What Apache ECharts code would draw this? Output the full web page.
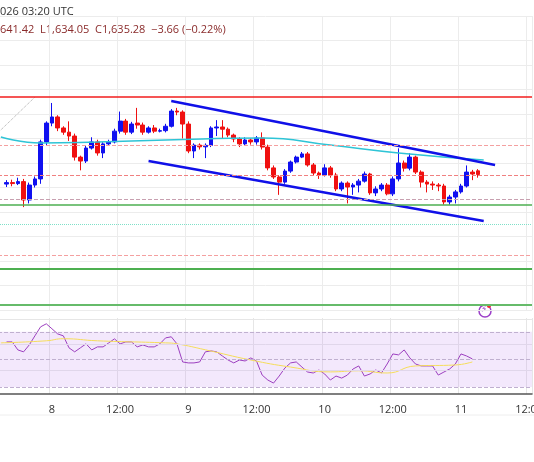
<!DOCTYPE html>
<html>
<head>
<meta charset="utf-8">
<script src="https://cdn.jsdelivr.net/npm/echarts@6/dist/echarts.min.js"></script>
<style>
  html, body { margin: 0; padding: 0; background: #fff; }
  #chart { width: 534px; height: 462px; }
</style>
</head>
<body>
<div id="chart"></div>
<script>
// hourly candles, first one at 7th 15:00 UTC (h = -8 from the 8th 00:00)
const firstHour = -9;
const lastHour = 84;

// [open, close, low, high]
const candles = [
  [1631.4, 1632.0, 1630.2, 1633.0], [1632.0, 1631.6, 1630.5, 1633.2], [1631.6, 1632.4, 1631.0, 1634.0],
  [1632.4, 1624.9, 1622.0, 1633.5], [1624.9, 1631.0, 1623.5, 1632.0], [1631.0, 1633.5, 1630.0, 1634.5],
  [1633.5, 1648.6, 1631.5, 1649.5], [1648.6, 1656.3, 1647.0, 1657.0], [1656.3, 1658.8, 1655.0, 1664.5],
  [1658.8, 1654.3, 1653.0, 1659.5], [1654.3, 1652.6, 1651.5, 1655.0], [1652.6, 1651.0, 1649.0, 1657.0],
  [1651.0, 1642.4, 1641.0, 1652.0], [1642.4, 1640.8, 1637.0, 1643.0], [1640.8, 1646.1, 1640.0, 1647.0],
  [1646.1, 1648.6, 1645.5, 1650.5], [1648.6, 1644.1, 1643.0, 1649.5], [1644.1, 1647.8, 1642.0, 1648.5],
  [1647.8, 1648.6, 1647.0, 1649.5], [1648.6, 1653.0, 1648.0, 1654.0], [1653.0, 1657.1, 1652.0, 1661.0],
  [1657.1, 1652.6, 1651.5, 1658.0], [1652.6, 1655.9, 1651.8, 1656.8], [1656.3, 1655.5, 1654.0, 1662.5],
  [1655.5, 1652.6, 1651.5, 1656.5], [1652.6, 1654.3, 1652.0, 1655.0], [1654.3, 1653.0, 1652.2, 1655.5],
  [1653.0, 1653.2, 1652.5, 1654.0], [1653.2, 1655.0, 1652.5, 1656.0], [1655.0, 1661.2, 1654.5, 1662.0],
  [1661.2, 1660.8, 1659.5, 1662.5], [1660.8, 1655.9, 1650.0, 1661.5], [1655.9, 1644.9, 1644.0, 1657.0],
  [1644.9, 1647.3, 1642.0, 1648.0], [1647.3, 1646.6, 1645.5, 1648.0], [1646.6, 1647.2, 1642.0, 1648.0],
  [1647.2, 1654.3, 1646.5, 1655.0], [1654.3, 1654.7, 1651.0, 1657.5], [1654.7, 1653.8, 1650.0, 1657.5],
  [1653.8, 1651.4, 1650.5, 1654.5], [1651.4, 1649.8, 1648.5, 1652.0], [1649.8, 1647.8, 1646.5, 1650.5],
  [1647.8, 1649.4, 1647.0, 1650.5], [1649.4, 1648.6, 1647.5, 1650.0], [1648.6, 1650.2, 1647.5, 1651.0],
  [1650.2, 1646.5, 1645.5, 1652.5], [1646.5, 1638.0, 1637.0, 1647.5], [1638.0, 1634.3, 1633.5, 1639.0],
  [1634.3, 1632.2, 1627.0, 1635.0], [1632.2, 1636.7, 1631.5, 1637.5], [1636.7, 1640.4, 1636.0, 1641.0],
  [1640.4, 1642.4, 1639.8, 1643.0], [1642.4, 1643.7, 1642.0, 1644.5], [1643.7, 1639.2, 1638.5, 1644.5],
  [1639.2, 1635.9, 1635.0, 1640.0], [1635.9, 1635.1, 1633.5, 1636.5], [1635.1, 1638.0, 1634.5, 1639.5],
  [1638.0, 1635.1, 1634.0, 1638.8], [1635.1, 1629.4, 1628.5, 1636.0], [1629.4, 1631.8, 1628.5, 1632.5],
  [1631.8, 1630.2, 1623.5, 1632.5], [1630.2, 1631.0, 1627.0, 1631.8], [1631.0, 1632.6, 1628.0, 1633.5],
  [1632.6, 1635.5, 1632.0, 1636.5], [1635.5, 1627.8, 1627.0, 1636.0], [1627.8, 1629.4, 1626.5, 1630.5],
  [1629.4, 1631.0, 1628.5, 1631.8], [1631.0, 1627.4, 1626.8, 1631.8], [1627.4, 1633.5, 1626.5, 1634.5],
  [1633.5, 1640.0, 1632.5, 1646.0], [1640.0, 1637.9, 1636.5, 1641.0], [1637.9, 1642.4, 1637.0, 1644.0],
  [1642.4, 1636.3, 1635.5, 1643.0], [1636.3, 1632.2, 1630.0, 1637.0], [1632.2, 1631.4, 1628.0, 1633.0],
  [1631.4, 1631.0, 1629.0, 1632.5], [1631.0, 1630.6, 1628.5, 1631.8], [1630.6, 1624.1, 1623.0, 1631.5],
  [1624.1, 1626.1, 1623.0, 1627.0], [1626.1, 1628.2, 1623.5, 1629.0], [1628.2, 1630.6, 1627.5, 1631.5],
  [1630.6, 1636.3, 1630.0, 1639.0], [1636.3, 1635.5, 1633.0, 1637.2], [1636.8, 1635.3, 1634.0, 1637.5]
];

// moving average (cyan), [category index, price]
const maPoints = [[0, 1650.6], [7, 1648.2], [17, 1648.6], [29, 1649.4], [46, 1650.2], [58, 1647.3], [70, 1644.1], [85, 1641.2]];

// channel lines
const upperChannel = [[30, 1665.3], [87, 1639.2]];
const lowerChannel = [[26, 1640.8], [85, 1616.3]];
const greyDotted = [[0, 1653.5], [6, 1666.9]];

// horizontal levels
const levels = [
  { price: 1667.1, color: '#f21c1c', type: 'solid', width: 1.5 },
  { price: 1647.3, color: '#f4a0a0', type: 'dashed', width: 1 },
  { price: 1635.1, color: '#f08080', type: 'dashed', width: 1 },
  { price: 1625.3, color: '#c8a0b0', type: 'dashed', width: 1 },
  { price: 1622.9, color: '#4caf50', type: 'solid', width: 1.5 },
  { price: 1615.1, color: '#7fe0c8', type: 'dotted', width: 1 },
  { price: 1602.5, color: '#f4a0a0', type: 'dashed', width: 1 },
  { price: 1596.8, color: '#4caf50', type: 'solid', width: 2 },
  { price: 1582.0, color: '#66bb6a', type: 'solid', width: 2 }
];

// RSI per candle
const rsi = [62.7, 62.7, 56.9, 55.5, 60.5, 67.1, 73.6, 75.8, 72.2, 68.5, 67.1, 58.4, 55.5, 58.4, 61.3, 56.9,
  59.1, 59.1, 62.0, 64.9, 61.3, 62.7, 62.7, 59.1, 60.5, 59.1, 59.1, 61.3, 65.6, 66.4, 61.3, 48.2, 47.5, 47.5,
  48.2, 55.5, 56.2, 55.5, 52.5, 49.6, 47.5, 49.6, 48.9, 51.1, 48.9, 38.7, 35.1, 32.9, 38.0, 43.8, 47.5, 48.2,
  44.5, 40.9, 40.2, 42.4, 39.5, 35.1, 38.0, 36.5, 38.7, 43.1, 45.3, 38.0, 39.5, 42.4, 40.2, 46.7, 54.0, 53.3,
  56.9, 51.1, 46.7, 45.3, 45.3, 45.3, 38.7, 40.9, 43.1, 46.7, 54.0, 52.5, 50.4];
const rsiMa = [[0, 62], [8, 63.5], [11, 65], [17, 63.5], [29, 62], [31, 61.3], [36, 57], [44, 49.6], [51, 44.5],
  [58, 41], [63, 41.8], [68, 40.2], [73, 45.3], [80, 46], [83, 48.2]];

const categories = [];
for (let h = firstHour; h <= lastHour; h++) categories.push('h' + h);
const hourLabel = (name) => {
  const h = Number(String(name).slice(1));
  if (h % 24 === 0) return String(8 + h / 24);
  if (((h % 24) + 24) % 24 === 12) return '12:00';
  return '';
};
const isTick = (i) => hourLabel(categories[i]) !== '';

const candleData = [{ value: '-' }].concat(candles);
const rsiData = ['-'].concat(rsi);

const levelLines = levels.map((l) => ({
  yAxis: l.price,
  lineStyle: { color: l.color, type: l.type, width: l.width }
}));

const chart = echarts.init(document.getElementById('chart'));
chart.setOption({
  animation: false,
  grid: [
    { left: -2, right: 2, top: 16, bottom: 152, outerBoundsMode: 'none', containLabel: false },
    { left: -2, right: 2, top: 318, bottom: 68, outerBoundsMode: 'none', containLabel: false }
  ],
  xAxis: [
    {
      type: 'category', data: categories, gridIndex: 0, boundaryGap: true,
      axisLine: { show: false }, axisTick: { show: false }, axisLabel: { show: false },
      splitLine: { show: true, interval: isTick, lineStyle: { color: '#ececec' } }
    },
    {
      type: 'category', data: categories, gridIndex: 1, boundaryGap: true,
      axisLine: { lineStyle: { color: '#555', width: 1.5 } }, axisTick: { show: false },
      axisLabel: {
        interval: isTick, formatter: hourLabel, color: '#333', fontSize: 11,
        fontFamily: 'Open Sans', margin: 10, showMaxLabel: true, hideOverlap: false
      },
      splitLine: { show: true, interval: isTick, lineStyle: { color: '#e6e6e6' } }
    }
  ],
  yAxis: [
    {
      type: 'value', gridIndex: 0, min: 1580, max: 1700, interval: 10,
      axisLabel: { show: false }, axisLine: { show: false }, axisTick: { show: false },
      splitLine: { lineStyle: { color: '#ececec' } }
    },
    {
      type: 'value', gridIndex: 1, min: 25, max: 80,
      axisLabel: { show: false }, axisLine: { show: false }, axisTick: { show: false },
      splitLine: { show: false }
    }
  ],
  series: [
    {
      type: 'candlestick', data: candleData, barWidth: '75%',
      itemStyle: { color: '#1010f0', color0: '#f01010', borderColor: '#1010f0', borderColor0: '#f01010', borderWidth: 1 },
      markLine: { silent: true, symbol: 'none', label: { show: false }, data: levelLines }
    },
    { type: 'line', data: maPoints, smooth: true, symbol: 'none', lineStyle: { color: '#2ec4d6', width: 1.5 } },
    { type: 'line', data: upperChannel, symbol: 'none', lineStyle: { color: '#1010e8', width: 2.5 } },
    { type: 'line', data: lowerChannel, symbol: 'none', lineStyle: { color: '#1010e8', width: 2.5 } },
    { type: 'line', data: greyDotted, symbol: 'none', lineStyle: { color: '#aaa', width: 1, type: 'dotted' } },
    {
      type: 'line', xAxisIndex: 1, yAxisIndex: 1, data: rsiData, symbol: 'none',
      lineStyle: { color: '#9c3fbf', width: 1 },
      markArea: { silent: true, itemStyle: { color: 'rgba(200,150,240,0.22)' }, data: [[{ yAxis: 30 }, { yAxis: 70 }]] },
      markLine: {
        silent: true, symbol: 'none', label: { show: false },
        data: [
          { yAxis: 70, lineStyle: { color: '#c0b0d0', type: 'dashed', width: 1 } },
          { yAxis: 50, lineStyle: { color: '#c0b0d0', type: 'dashed', width: 1 } },
          { yAxis: 30, lineStyle: { color: '#c0b0d0', type: 'dashed', width: 1 } },
          { yAxis: 79, lineStyle: { color: '#e6e6e6', type: 'solid', width: 1 } },
          { yAxis: 61, lineStyle: { color: '#e0d6ea', type: 'solid', width: 1 } },
          { yAxis: 42, lineStyle: { color: '#e0d6ea', type: 'solid', width: 1 } }
        ]
      }
    },
    {
      type: 'line', xAxisIndex: 1, yAxisIndex: 1, data: rsiMa, smooth: true, symbol: 'none',
      lineStyle: { color: '#f5dd5a', width: 1 }
    }
  ],
  graphic: [
    { type: 'text', left: 0, top: 6, style: { text: '026 03:20 UTC', fill: '#333', font: '11px "Open Sans"' } },
    { type: 'text', left: 0, top: 24, style: { text: '641.42  L1,634.05  C1,635.28  −3.66 (−0.22%)', fill: '#8a2b2b', font: '11px "Open Sans"' } },
    { type: 'line', shape: { x1: 0, y1: 415, x2: 534, y2: 415 }, style: { stroke: '#eee', lineWidth: 1 } },
    { type: 'circle', shape: { cx: 485, cy: 311, r: 6 }, style: { fill: 'none', stroke: '#9b3fc8', lineWidth: 1.5 } },
    { type: 'text', x: 481, y: 305, style: { text: '⚡', fill: '#9b3fc8', font: '9px "DejaVu Sans"' } },
    { type: 'circle', shape: { cx: 489, cy: 306, r: 2 }, style: { fill: '#f03030' } }
  ]
});
</script>
</body>
</html>
